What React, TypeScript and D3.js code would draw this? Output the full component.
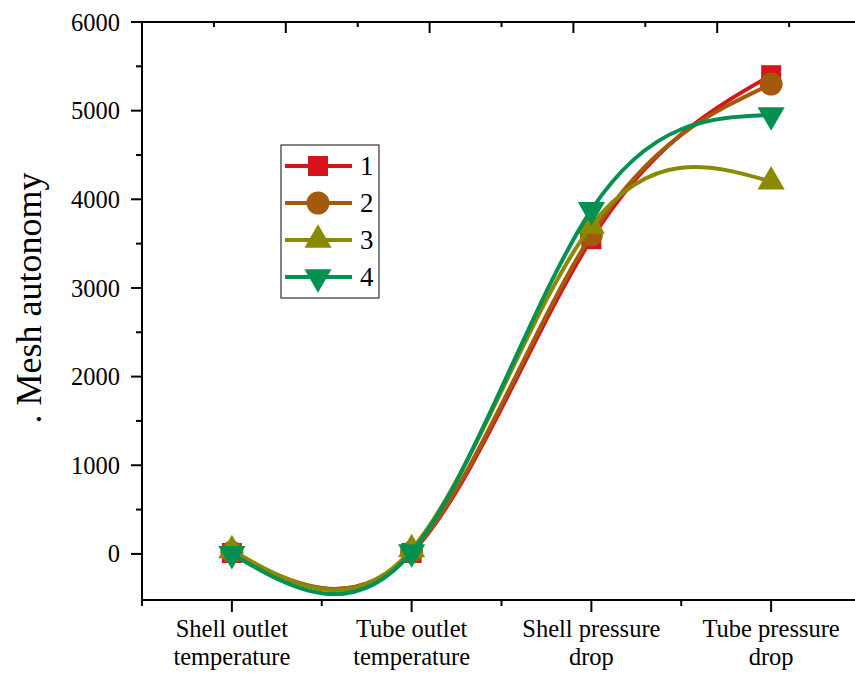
import React, { useEffect, useRef } from 'react';
import * as d3 from 'd3';

// categories on the bottom axis (two text lines each)
const categories = ['Shell outlet temperature', 'Tube outlet temperature', 'Shell pressure drop', 'Tube pressure drop'];
const categoryLines = [
    ['Shell outlet', 'temperature'],
    ['Tube outlet', 'temperature'],
    ['Shell pressure', 'drop'],
    ['Tube pressure', 'drop'],
];

const seriesNames = ['1', '2', '3', '4'];
const series1 = [10, 10, 3550, 5400];
const series2 = [20, 20, 3600, 5300];
const series3 = [40, 50, 3700, 4200];
const series4 = [0, 20, 3880, 4950];

const yTicks = [0, 1000, 2000, 3000, 4000, 5000, 6000];
const yTitle = '. Mesh autonomy';

const colors = ['#D8141A', '#A35A0C', '#8A8A00', '#039152'];

function Chart() {
    const ref = useRef<SVGSVGElement>(null);

    const width = 855;
    const height = 674;
    const margin = { top: 22, right: -6, bottom: 74, left: 142 };

    useEffect(() => {
        drawChart();
    }, []);

    function drawChart() {
        const svg = d3.select(ref.current);
        svg.selectAll('*').remove();

        const x = d3.scaleLinear().domain([0.5, 4.5]).range([margin.left, width - margin.right]);
        const y = d3.scaleLinear().domain([-520, 6000]).range([height - margin.bottom, margin.top]);
        // second layer scales for the top / right axes (ticks only)
        const xTop = d3.scaleLinear().domain([0, 5]).range([margin.left, width - margin.right]);
        const yRight = d3.scaleLinear().domain([0, 5]).range([height - margin.bottom, margin.top]);

        const font = 'Liberation Serif, Tinos, Times New Roman, DejaVu Serif, serif';
        const x0 = margin.left;
        const x1 = width - margin.right;
        const y0 = height - margin.bottom;
        const y1 = margin.top;

        const axes = svg.append('g').attr('stroke', '#000').attr('stroke-width', 2);

        // frame
        axes.append('line').attr('x1', x0).attr('x2', x0).attr('y1', y1 - 1).attr('y2', y0 + 1);
        axes.append('line').attr('x1', x0 - 1).attr('x2', x1).attr('y1', y0).attr('y2', y0);
        axes.append('line').attr('x1', x0 - 1).attr('x2', x1).attr('y1', y1).attr('y2', y1);
        axes.append('line').attr('x1', x1).attr('x2', x1).attr('y1', y1).attr('y2', y0);

        // left axis ticks
        const yMinor = d3.range(500, 6000, 1000);
        axes.selectAll('.ymaj').data(yTicks).enter().append('line')
            .attr('x1', x0 - 11).attr('x2', x0)
            .attr('y1', (d) => y(d)).attr('y2', (d) => y(d));
        axes.selectAll('.ymin').data(yMinor).enter().append('line')
            .attr('x1', x0 - 6).attr('x2', x0)
            .attr('y1', (d) => y(d)).attr('y2', (d) => y(d));

        svg.selectAll('.ylab').data(yTicks).enter().append('text')
            .attr('x', x0 - 22)
            .attr('y', (d) => y(d))
            .attr('dy', '0.35em')
            .attr('text-anchor', 'end')
            .attr('font-family', font)
            .attr('font-size', 24.5)
            .text((d) => d);

        // bottom axis ticks
        const xMajor = d3.range(1, 5);
        const xMinor = d3.range(0.5, 5, 1);
        axes.selectAll('.xmaj').data(xMajor).enter().append('line')
            .attr('x1', (d) => x(d)).attr('x2', (d) => x(d))
            .attr('y1', y0).attr('y2', y0 + 12);
        axes.selectAll('.xmin').data(xMinor).enter().append('line')
            .attr('x1', (d) => x(d)).attr('x2', (d) => x(d))
            .attr('y1', y0).attr('y2', y0 + 6);

        const catText = svg.selectAll('.xlab').data(categoryLines).enter().append('text')
            .attr('text-anchor', 'middle')
            .attr('font-family', font)
            .attr('font-size', 24.5);
        catText.each(function (lines, i) {
            lines.forEach((l, j) => {
                d3.select(this).append('tspan')
                    .attr('x', x(i + 1))
                    .attr('y', y0 + 37 + j * 28)
                    .text(l);
            });
        });

        // top axis ticks (inward)
        axes.selectAll('.tmaj').data(d3.range(1, 5)).enter().append('line')
            .attr('x1', (d) => xTop(d)).attr('x2', (d) => xTop(d))
            .attr('y1', y1).attr('y2', y1 + 11);
        axes.selectAll('.tmin').data(d3.range(0.5, 5, 1)).enter().append('line')
            .attr('x1', (d) => xTop(d)).attr('x2', (d) => xTop(d))
            .attr('y1', y1).attr('y2', y1 + 5);

        // right axis ticks (inward)
        axes.selectAll('.rmin').data(d3.range(1, 5)).enter().append('line')
            .attr('x1', x1 - 6).attr('x2', x1)
            .attr('y1', (d) => yRight(d)).attr('y2', (d) => yRight(d));

        // y title
        svg.append('text')
            .attr('transform', `translate(41, 298) rotate(-90)`)
            .attr('text-anchor', 'middle')
            .attr('font-family', font)
            .attr('font-size', 36)
            .text(yTitle);

        const data = [series1, series2, series3, series4];
        const shapes = [d3.symbolSquare, d3.symbolCircle, d3.symbolTriangle, d3.symbolTriangle];
        const sizes = [400, 415, 320, 320];
        const rot = [0, 0, 0, 180];

        const line = d3.line<number>()
            .x((_, i) => x(i + 1))
            .y((d) => y(d))
            .curve(d3.curveNatural);

        data.forEach((values, s) => {
            const g = svg.append('g');
            g.append('path')
                .attr('d', line(values))
                .attr('fill', 'none')
                .attr('stroke', colors[s])
                .attr('stroke-width', 4);
            g.selectAll('path.m').data(values).enter().append('path')
                .attr('class', 'm')
                .attr('d', d3.symbol().type(shapes[s]).size(sizes[s])())
                .attr('transform', (d, i) => `translate(${x(i + 1)}, ${y(d)}) rotate(${rot[s]})`)
                .attr('fill', colors[s]);
        });

        // legend
        const lx = 281;
        const ly = 145;
        const legend = svg.append('g');
        legend.append('rect')
            .attr('x', lx).attr('y', ly)
            .attr('width', 98).attr('height', 153)
            .attr('fill', '#fff')
            .attr('stroke', '#333')
            .attr('stroke-width', 1.2);
        seriesNames.forEach((name, s) => {
            const cy = ly + 21 + s * 37;
            legend.append('line')
                .attr('x1', lx + 4).attr('x2', lx + 71)
                .attr('y1', cy).attr('y2', cy)
                .attr('stroke', colors[s])
                .attr('stroke-width', 4);
            legend.append('path')
                .attr('d', d3.symbol().type(shapes[s]).size(sizes[s])())
                .attr('transform', `translate(${lx + 37}, ${cy}) rotate(${rot[s]})`)
                .attr('fill', colors[s]);
            legend.append('text')
                .attr('x', lx + 79)
                .attr('y', cy)
                .attr('dy', '0.35em')
                .attr('font-family', font)
                .attr('font-size', 27)
                .text(name);
        });
    }

    return (
        <svg ref={ref} width={width} height={height}
            style={{ position: 'absolute', top: 0, left: 0, display: 'block', background: '#fff' }} />
    );
}

export default function App() {
    return <Chart />;
}
